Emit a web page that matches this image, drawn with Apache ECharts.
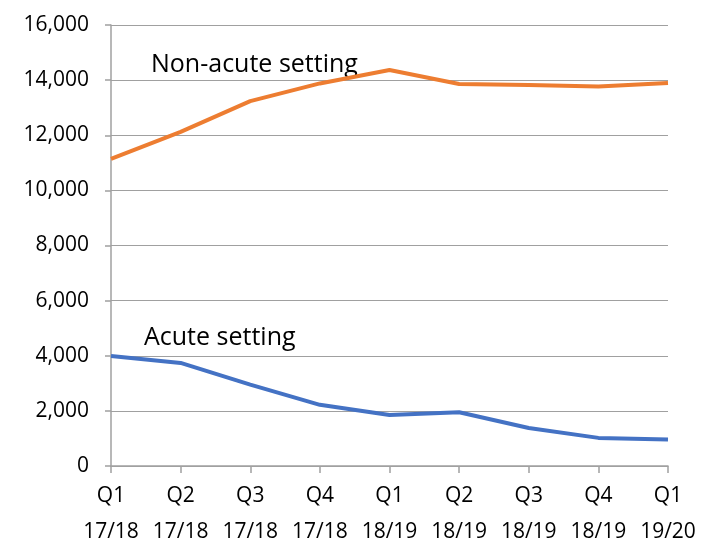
<!DOCTYPE html>
<html>
<head>
<meta charset="utf-8">
<script src="https://cdn.jsdelivr.net/npm/echarts@6/dist/echarts.min.js"></script>
<style>
  html, body { margin: 0; padding: 0; background: #fff; }
  #chart { width: 703px; height: 543px; }
</style>
</head>
<body>
<div id="chart"></div>
<script>
  // 季度
  const quarters = ['Q1\n17/18', 'Q2\n17/18', 'Q3\n17/18', 'Q4\n17/18', 'Q1\n18/19', 'Q2\n18/19', 'Q3\n18/19', 'Q4\n18/19', 'Q1\n19/20']
  const nonAcute = [11140, 12120, 13240, 13880, 14370, 13860, 13820, 13770, 13900]
  const acute = [3990, 3740, 2950, 2220, 1850, 1950, 1380, 1020, 960]

  const font = 'Open Sans, Noto Sans, sans-serif'
  const chart = echarts.init(document.getElementById('chart'))
  chart.setOption({
    animation: false,
    grid: { left: 111, right: 35, top: 25, bottom: 77, outerBoundsMode: 'none' },
    xAxis: {
      type: 'category',
      data: quarters,
      boundaryGap: false,
      axisLine: { lineStyle: { color: '#a0a0a0', width: 1.5 } },
      axisTick: { show: true, length: 7, interval: 0, alignWithLabel: true, lineStyle: { color: '#a0a0a0', width: 1.5 } },
      axisLabel: { color: '#000', fontSize: 21, fontFamily: font, lineHeight: 36, margin: 12, interval: 0, hideOverlap: false }
    },
    yAxis: {
      type: 'value',
      min: 0,
      max: 16000,
      interval: 2000,
      axisLine: { show: true, lineStyle: { color: '#a0a0a0', width: 1.5 } },
      axisTick: { show: true, length: 6, lineStyle: { color: '#a0a0a0', width: 1.5 } },
      splitLine: { lineStyle: { color: '#a0a0a0', width: 1.2 } },
      axisLabel: {
        color: '#000', fontSize: 21, fontFamily: font, margin: 22,
        formatter: v => v.toLocaleString('en-US')
      }
    },
    series: [
      {
        name: 'Non-acute setting',
        type: 'line',
        data: nonAcute,
        symbol: 'none',
        lineStyle: { color: '#ed7d31', width: 4 }
      },
      {
        name: 'Acute setting',
        type: 'line',
        data: acute,
        symbol: 'none',
        lineStyle: { color: '#4472c4', width: 4 }
      }
    ],
    graphic: [
      { type: 'text', left: 151, top: 52, style: { text: 'Non-acute setting', fontSize: 25, fontFamily: font, fill: '#000' } },
      { type: 'text', left: 144, top: 325, style: { text: 'Acute setting', fontSize: 25, fontFamily: font, fill: '#000' } }
    ]
  })
</script>
</body>
</html>
